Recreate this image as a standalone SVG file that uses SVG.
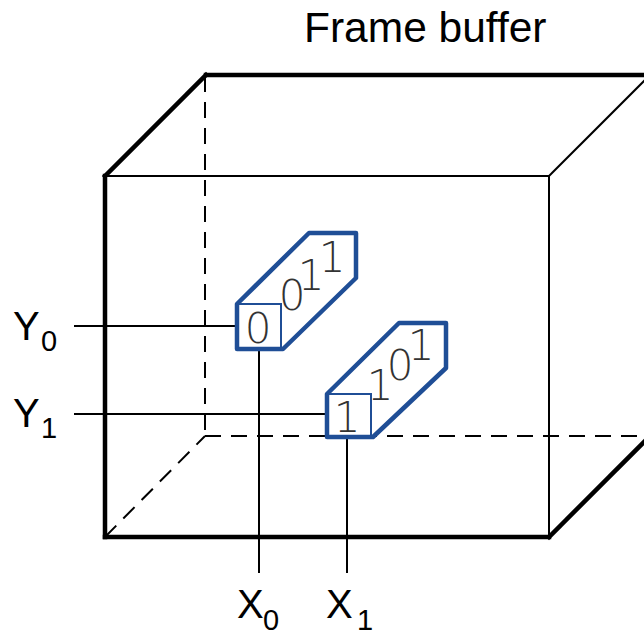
<svg xmlns="http://www.w3.org/2000/svg" width="644" height="633" viewBox="0 0 644 633">
<style>
.thick{stroke:#000;stroke-width:4.5;fill:none;stroke-linecap:square}
.thin{stroke:#000;stroke-width:2;fill:none}
.dash{stroke:#000;stroke-width:2;fill:none;stroke-dasharray:16,10}
.lead{stroke:#000;stroke-width:2;fill:none}
.outline{stroke:#1f4e96;stroke-width:4.5;fill:none;stroke-linejoin:round}
.inner{stroke:#1f4e96;stroke-width:2;fill:none}
.lbl{font-family:"Liberation Sans",Arial,sans-serif;fill:#000}
.bit{font-family:"DejaVu Sans",sans-serif;font-weight:200;font-size:42px;fill:#333;text-anchor:middle}
</style>
<rect width="644" height="633" fill="#fff"/>
<g id="title"><text class="lbl" x="304" y="42" font-size="42.5">Frame buffer</text></g>
<g id="frame-buffer">
  <line class="dash" x1="205" y1="76" x2="205" y2="436"/>
  <line class="dash" x1="205" y1="436" x2="644" y2="436"/>
  <line class="dash" x1="105" y1="537" x2="205" y2="436"/>
  <line class="thin" x1="105" y1="176" x2="549" y2="176"/>
  <line class="thin" x1="549" y1="176" x2="549" y2="537"/>
  <line class="thin" x1="549" y1="176" x2="650" y2="75"/>
  <line class="thick" x1="105" y1="176" x2="105" y2="537"/>
  <line class="thick" x1="105" y1="537" x2="549" y2="537"/>
  <line class="thick" x1="549" y1="537" x2="650" y2="436"/>
  <line class="thick" x1="105" y1="176" x2="206" y2="75"/>
  <line class="thick" x1="206" y1="75" x2="650" y2="75"/>
</g>
<g id="connectors">
  <line class="lead" x1="74" y1="326" x2="237" y2="326"/>
  <line class="lead" x1="74" y1="414" x2="327" y2="414"/>
  <line class="lead" x1="259" y1="349" x2="259" y2="573"/>
  <line class="lead" x1="347" y1="437" x2="347" y2="573"/>
</g>
<g id="pixel0">
  <polygon class="outline" points="237,304 309,233 356,233 356,278 283,349 237,349"/>
  <polyline class="inner" points="237,304 281,304 281,349"/>
  <text class="bit" x="258" y="343">0</text>
  <text class="bit" x="292" y="310">0</text>
  <text class="bit" x="311" y="290">1</text>
  <text class="bit" x="332" y="272">1</text>
</g>
<g id="pixel1">
  <polygon class="outline" points="327,394 399,323 446,323 446,368 373,437 327,437"/>
  <polyline class="inner" points="327,394 371,394 371,437"/>
  <text class="bit" x="347" y="432">1</text>
  <text class="bit" x="380" y="400">1</text>
  <text class="bit" x="400" y="380">0</text>
  <text class="bit" x="421" y="360">1</text>
</g>
<g id="label-y0"><text class="lbl" x="13" y="340" font-size="40">Y<tspan x="41" y="351" font-size="29">0</tspan></text></g>
<g id="label-y1"><text class="lbl" x="13" y="427" font-size="40">Y<tspan x="41" y="438" font-size="29">1</tspan></text></g>
<g id="label-x0"><text class="lbl" x="237" y="618" font-size="40">X<tspan x="263" y="630" font-size="29">0</tspan></text></g>
<g id="label-x1"><text class="lbl" x="326" y="618" font-size="40">X<tspan x="357" y="630" font-size="29">1</tspan></text></g>
</svg>
